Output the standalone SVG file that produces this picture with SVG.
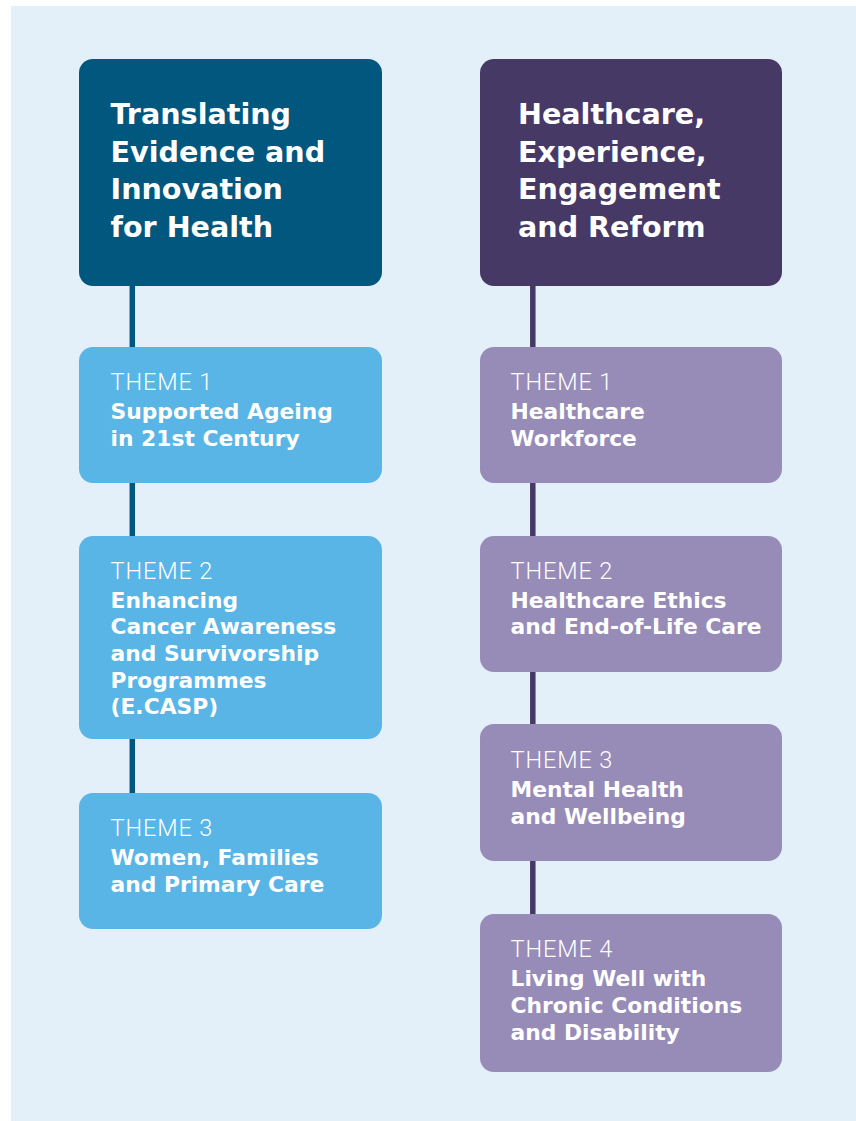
<svg xmlns="http://www.w3.org/2000/svg" width="856" height="1121" viewBox="0 0 856 1121">
<style>
.bg{fill:#E3EFF9}
.hl{fill:#02577E}
.hr{fill:#473966}
.tl{fill:#59B5E5}
.tr{fill:#978BB8}
.cl{stroke:#02577E;stroke-width:5.5;fill:none}
.cr{stroke:#473966;stroke-width:5.5;fill:none}
.h{font-family:"DejaVu Sans","Liberation Sans",sans-serif;font-weight:bold;font-size:28.6px;fill:#fff}
.lab{font-family:Roboto,"Liberation Sans",sans-serif;font-weight:300;font-size:23.5px;letter-spacing:0.9px;fill:#fff}
.b{font-family:"DejaVu Sans","Liberation Sans",sans-serif;font-weight:bold;font-size:21.8px;fill:#fff}
</style>
<rect class="bg" x="11" y="6" width="845" height="1115"/>
<g id="connectors">
<line class="cl" x1="132.3" y1="280" x2="132.3" y2="352"/>
<line class="cl" x1="132.3" y1="478" x2="132.3" y2="541"/>
<line class="cl" x1="132.3" y1="734" x2="132.3" y2="798"/>
<line class="cr" x1="532.8" y1="280" x2="532.8" y2="352"/>
<line class="cr" x1="532.8" y1="478" x2="532.8" y2="541"/>
<line class="cr" x1="532.8" y1="666" x2="532.8" y2="729"/>
<line class="cr" x1="532.8" y1="855" x2="532.8" y2="919"/>
</g>
<g id="header-left">
<rect class="hl" x="79" y="59" width="303" height="227" rx="14"/>
<text class="h" x="110.5"><tspan x="110.5" y="124">Translating</tspan><tspan x="110.5" y="161.5">Evidence and</tspan><tspan x="110.5" y="199">Innovation</tspan><tspan x="110.5" y="236.5">for Health</tspan></text>
</g>
<g id="header-right">
<rect class="hr" x="480" y="59" width="302" height="227" rx="14"/>
<text class="h" x="518"><tspan x="518" y="124">Healthcare,</tspan><tspan x="518" y="161.5">Experience,</tspan><tspan x="518" y="199">Engagement</tspan><tspan x="518" y="236.5">and Reform</tspan></text>
</g>
<g id="left-theme1">
<rect class="tl" x="79" y="347" width="303" height="136" rx="14"/>
<text class="lab" x="110.5" y="390">THEME 1</text>
<text class="b"><tspan x="110.5" y="419">Supported Ageing</tspan><tspan x="110.5" y="446">in 21st Century</tspan></text>
</g>
<g id="left-theme2">
<rect class="tl" x="79" y="536" width="303" height="203" rx="14"/>
<text class="lab" x="110.5" y="579">THEME 2</text>
<text class="b"><tspan x="110.5" y="607.5">Enhancing</tspan><tspan x="110.5" y="634.3">Cancer Awareness</tspan><tspan x="110.5" y="661">and Survivorship</tspan><tspan x="110.5" y="687.7">Programmes</tspan><tspan x="110.5" y="714.3">(E.CASP)</tspan></text>
</g>
<g id="left-theme3">
<rect class="tl" x="79" y="793" width="303" height="136" rx="14"/>
<text class="lab" x="110.5" y="836">THEME 3</text>
<text class="b"><tspan x="110.5" y="865">Women, Families</tspan><tspan x="110.5" y="891.7">and Primary Care</tspan></text>
</g>
<g id="right-theme1">
<rect class="tr" x="480" y="347" width="302" height="136" rx="14"/>
<text class="lab" x="510.5" y="390">THEME 1</text>
<text class="b"><tspan x="510.5" y="419">Healthcare</tspan><tspan x="510.5" y="446">Workforce</tspan></text>
</g>
<g id="right-theme2">
<rect class="tr" x="480" y="536" width="302" height="136" rx="14"/>
<text class="lab" x="510.5" y="579">THEME 2</text>
<text class="b"><tspan x="510.5" y="607.5">Healthcare Ethics</tspan><tspan x="510.5" y="634.3">and End-of-Life Care</tspan></text>
</g>
<g id="right-theme3">
<rect class="tr" x="480" y="724" width="302" height="137" rx="14"/>
<text class="lab" x="510.5" y="768">THEME 3</text>
<text class="b"><tspan x="510.5" y="796.7">Mental Health</tspan><tspan x="510.5" y="823.7">and Wellbeing</tspan></text>
</g>
<g id="right-theme4">
<rect class="tr" x="480" y="914" width="302" height="158" rx="14"/>
<text class="lab" x="510.5" y="956.7">THEME 4</text>
<text class="b"><tspan x="510.5" y="985.7">Living Well with</tspan><tspan x="510.5" y="1013">Chronic Conditions</tspan><tspan x="510.5" y="1040">and Disability</tspan></text>
</g>
</svg>
